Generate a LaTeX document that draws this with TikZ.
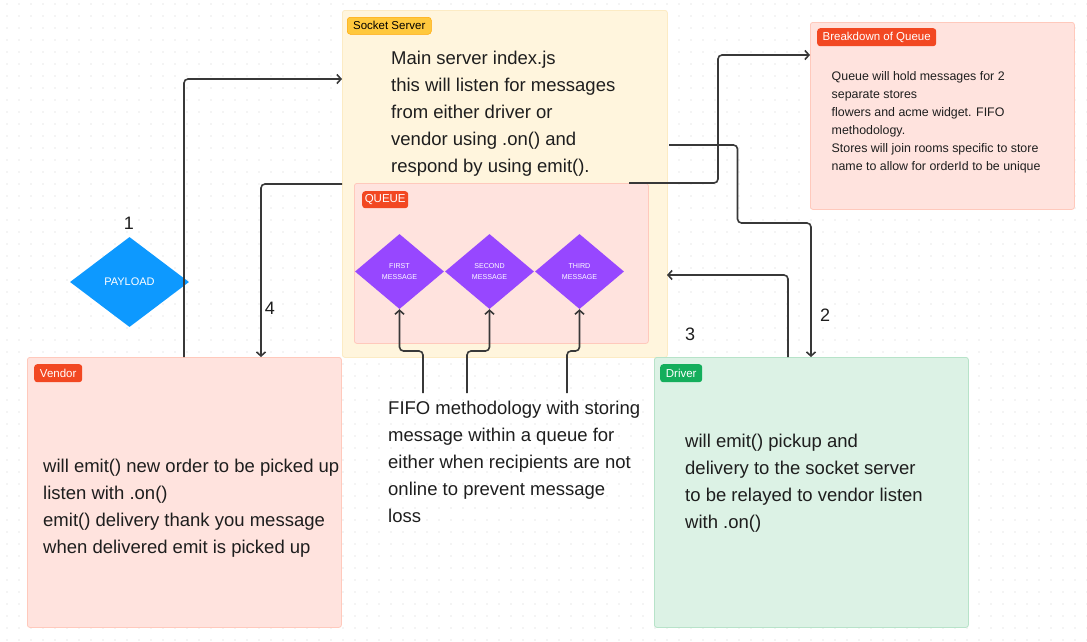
\documentclass[tikz,border=0pt]{standalone}
\usepackage{fontspec}
\setmainfont{Liberation Sans}
\usetikzlibrary{arrows.meta,shapes.geometric}
\definecolor{ssfill}{HTML}{FFF5DD}
\definecolor{ssborder}{HTML}{FCEBC4}
\definecolor{pinkfill}{HTML}{FFE3DE}
\definecolor{pinkborder}{HTML}{FFC9BC}
\definecolor{greenfill}{HTML}{DCF2E5}
\definecolor{greenborder}{HTML}{B7E3C9}
\definecolor{tagred}{HTML}{F24822}
\definecolor{tagyellow}{HTML}{FFC83D}
\definecolor{taggreen}{HTML}{14AE5C}
\definecolor{purp}{HTML}{9747FF}
\definecolor{blu}{HTML}{0D99FF}
\definecolor{linec}{HTML}{383838}
\definecolor{txt}{HTML}{1E1E1E}
\definecolor{dotc}{HTML}{D2D2D2}
\tikzset{
  panel/.style 2 args={draw=#2, fill=#1, line width=0.8pt, rounded corners=2.5pt, inner sep=0pt, anchor=north west},
  tag/.style={fill=#1, rounded corners=3pt, inner sep=0pt, anchor=north west, text=white, font=\fontsize{11.5}{12}\selectfont},
  body/.style={anchor=north west, inner sep=0pt, align=left, text=txt, font=\fontsize{18.5}{27}\selectfont},
  small/.style={anchor=north west, inner sep=0pt, align=left, text=txt, font=\fontsize{12.4}{18}\selectfont},
  num/.style={text=txt, inner sep=0pt, font=\fontsize{18}{18}\selectfont},
  msg/.style={diamond, fill=purp, inner sep=0pt, minimum width=89pt, minimum height=75pt, text=white, align=center, font=\fontsize{7.1}{11}\selectfont},
  conn/.style={draw=linec, line width=1.6pt, rounded corners=4pt, -{Straight Barb[length=4pt,width=9pt]}},
}
\begin{document}
\begin{tikzpicture}[x=1pt,y=-1pt]
\useasboundingbox (0,0) rectangle (1087,641);
\fill[white] (0,0) rectangle (1087,641);
\foreach \i in {0,...,90} {\foreach \j in {0,...,53} {\fill[dotc] (\i*12+7,\j*12+4) circle (0.65);}}

% panels
\node[panel={ssfill}{ssborder}, minimum width=325pt, minimum height=347pt] (ss) at (342,10) {};
\node[panel={pinkfill}{pinkborder}, minimum width=294pt, minimum height=160pt] (queue) at (354,183) {};
\node[panel={pinkfill}{pinkborder}, minimum width=264pt, minimum height=187pt] (bq) at (810,22) {};
\node[panel={pinkfill}{pinkborder}, minimum width=314pt, minimum height=270pt] (vendor) at (27,357) {};
\node[panel={greenfill}{greenborder}, minimum width=314pt, minimum height=270pt] (driver) at (654,357) {};

% tags
\node[tag=tagyellow, draw=orange!70!yellow, line width=0.5pt, text=black, minimum width=84pt, minimum height=17pt] (tss) at (347,17) {Socket Server};
\node[tag=tagred, minimum width=46pt, minimum height=17pt] (tq) at (362,191) {QUEUE};
\node[tag=tagred, minimum width=119pt, minimum height=18pt] (tbq) at (817,28) {Breakdown of Queue};
\node[tag=tagred, minimum width=48pt, minimum height=18pt] (tv) at (34,364) {Vendor};
\node[tag=taggreen, minimum width=42pt, minimum height=18pt] (td) at (660,364) {Driver};

% texts
\node[body] (sstext) at (391,50.5) {Main server index.js\\this will listen for messages\\from either driver or\\vendor using .on() and\\respond by using emit().};
\node[small] (bqtext) at (831.5,71.5) {Queue will hold messages for 2\\separate stores\\flowers and acme widget. FIFO\\methodology.\\Stores will join rooms specific to store\\name to allow for orderId to be unique};
\node[body] (vtext) at (43,458.5) {will emit() new order to be picked up\\listen with .on()\\emit() delivery thank you message\\when delivered emit is picked up};
\node[body] (dtext) at (685,433.5) {will emit() pickup and\\delivery to the socket server\\to be relayed to vendor listen\\with .on()};
\node[body] (fifo) at (388,400.5) {FIFO methodology with storing\\message within a queue for\\either when recipients are not\\online to prevent message\\loss};

% diamonds
\node[msg] (m1) at (399.5,271.5) {FIRST\\MESSAGE};
\node[msg] (m2) at (489.5,271.5) {SECOND\\MESSAGE};
\node[msg] (m3) at (579.5,271.5) {THIRD\\MESSAGE};
\node[diamond, fill=blu, inner sep=0pt, minimum width=119pt, minimum height=90pt, text=white, font=\fontsize{11}{12}\selectfont] (payload) at (129.5,282) {PAYLOAD};

% numbers
\node[num] (n1) at (129,223.5) {1};
\node[num] (n4) at (270,308.5) {4};
\node[num] (n3) at (690,334) {3};
\node[num] (n2) at (825,315) {2};

% connector end points
\coordinate (v1) at (184,357);
\coordinate (s1) at (342,79);
\coordinate (s4) at (342,184);
\coordinate (v4) at (261,357);
\coordinate (qout) at (629,183);
\coordinate (bin) at (810,55);
\coordinate (sout) at (669,145);
\coordinate (d2) at (811,357);
\coordinate (d3) at (788,357);
\coordinate (s3) at (667,275);
\coordinate (fa) at (423,393);
\coordinate (fb) at (467,393);
\coordinate (fc) at (567,393);

% connectors
\draw[conn] (v1) -- (184,79) -- (s1);
\draw[conn] (s4) -- (261,184) -- (v4);
\draw[conn] (qout) -- (718,183) -- (718,55) -- (bin);
\draw[conn] (sout) -- (737.5,145) -- (737.5,223) -- (811,223) -- (d2);
\draw[conn] (d3) -- (788,275) -- (s3);
\draw[conn] (fa) -- (423,351) -- (399.5,351) -- (m1.south);
\draw[conn] (fb) -- (467,351) -- (489.5,351) -- (m2.south);
\draw[conn] (fc) -- (567,351) -- (579.5,351) -- (m3.south);
\end{tikzpicture}
\end{document}
